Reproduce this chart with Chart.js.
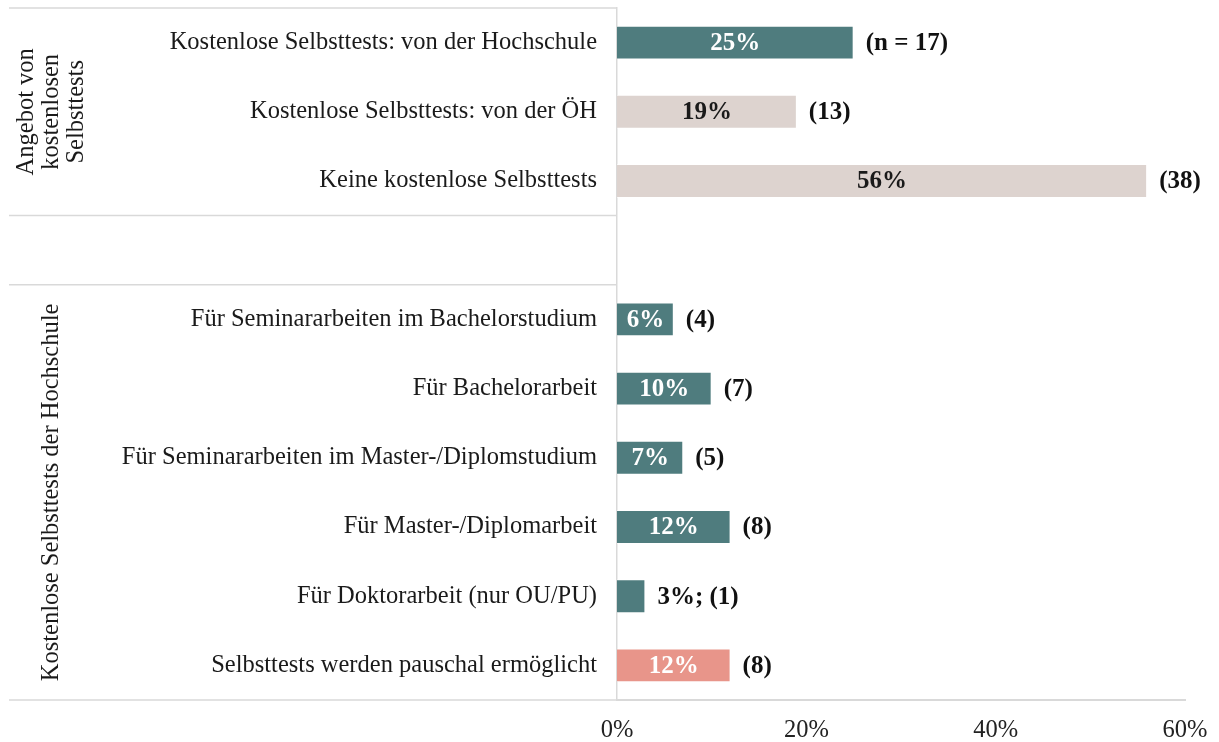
<!DOCTYPE html>
<html lang="de">
<head>
<meta charset="utf-8">
<script src="https://cdn.jsdelivr.net/npm/chart.js@4.4.1/dist/chart.umd.min.js"></script>
<style>
  html, body { margin: 0; padding: 0; background: #fff; }
  #wrap { position: relative; width: 1219px; height: 742px; }
</style>
</head>
<body>
<div id="wrap"><canvas id="myChart"></canvas></div>
<script>
// Kategorien (leerer Eintrag = Abstand zwischen den Gruppen)
const categories = [
  'Kostenlose Selbsttests: von der Hochschule',
  'Kostenlose Selbsttests: von der ÖH',
  'Keine kostenlose Selbsttests',
  '',
  'Für Seminararbeiten im Bachelorstudium',
  'Für Bachelorarbeit',
  'Für Seminararbeiten im Master-/Diplomstudium',
  'Für Master-/Diplomarbeit',
  'Für Doktorarbeit (nur OU/PU)',
  'Selbsttests werden pauschal ermöglicht'
];
const shares = [25, 19, 56, null, 6, 10, 7, 12, 3, 12];
const counts = ['n = 17', '13', '38', null, '4', '7', '5', '8', '1', '8'];
const barKind = ['hs', 'other', 'other', null, 'hs', 'hs', 'hs', 'hs', 'hs', 'flat'];

const groups = [
  { lines: ['Angebot von', 'kostenlosen', 'Selbsttests'], from: 0, to: 2, cx: 52 },
  { lines: ['Kostenlose Selbsttests der Hochschule'], from: 4, to: 9, cx: 52 }
];
const xTicks = [0, 20, 40, 60];

const colors = { hs: '#4f7c7e', other: '#ddd3cf', flat: '#e8958a' };
const labelColors = { hs: '#ffffff', other: '#1a1a1a', flat: '#ffffff' };
const lineColor = '#d9d9d9';
const serif = "'Liberation Serif', 'DejaVu Serif', serif";

const labelPlugin = {
  id: 'barLabels',
  afterDatasetsDraw(chart) {
    const ctx = chart.ctx;
    const meta = chart.getDatasetMeta(0);
    ctx.save();
    ctx.font = `bold 25px ${serif}`;
    ctx.textBaseline = 'middle';
    meta.data.forEach((bar, i) => {
      if (shares[i] == null) return;
      const kind = barKind[i];
      const width = bar.x - bar.base;
      let outside = `(${counts[i]})`;
      if (width < 40) {
        outside = `${shares[i]}%; (${counts[i]})`;
      } else {
        ctx.fillStyle = labelColors[kind];
        ctx.textAlign = 'center';
        ctx.fillText(`${shares[i]}%`, (bar.x + bar.base) / 2, bar.y + 1);
      }
      ctx.fillStyle = '#111';
      ctx.textAlign = 'left';
      ctx.fillText(outside, bar.x + 12, bar.y + 1);
    });
    ctx.restore();
  }
};

const groupPlugin = {
  id: 'groupFrame',
  afterDraw(chart) {
    const ctx = chart.ctx;
    const area = chart.chartArea;
    const y = chart.scales.y;
    const half = (y.getPixelForValue(1) - y.getPixelForValue(0)) / 2;
    const x0 = 9;
    ctx.save();
    ctx.strokeStyle = lineColor;
    ctx.lineWidth = 1.5;
    const edges = [area.top, y.getPixelForValue(2) + half, y.getPixelForValue(4) - half, area.bottom];
    edges.forEach(py => {
      ctx.beginPath();
      ctx.moveTo(x0, py);
      ctx.lineTo(area.left, py);
      ctx.stroke();
    });
    ctx.fillStyle = '#1a1a1a';
    ctx.font = `24.5px ${serif}`;
    ctx.textAlign = 'center';
    ctx.textBaseline = 'middle';
    groups.forEach(g => {
      const cy = (y.getPixelForValue(g.from) + y.getPixelForValue(g.to)) / 2;
      const lh = 25;
      ctx.save();
      ctx.translate(g.cx, cy);
      ctx.rotate(-Math.PI / 2);
      g.lines.forEach((t, k) => {
        ctx.fillText(t, 0, (k - (g.lines.length - 1) / 2) * lh);
      });
      ctx.restore();
    });
    ctx.restore();
  }
};

new Chart(document.getElementById('myChart'), {
  type: 'bar',
  data: {
    labels: categories,
    datasets: [{
      data: shares,
      backgroundColor: barKind.map(k => k ? colors[k] : 'transparent'),
      borderColor: 'rgba(255,255,255,0.6)',
      borderWidth: 1,
      categoryPercentage: 1,
      barPercentage: 0.49
    }]
  },
  options: {
    indexAxis: 'y',
    responsive: true,
    maintainAspectRatio: false,
    animation: false,
    layout: { padding: { top: 8, right: 34, left: 0, bottom: 0 } },
    plugins: {
      legend: { display: false },
      tooltip: { enabled: false }
    },
    scales: {
      x: {
        min: 0,
        max: 60,
        afterBuildTicks: scale => { scale.ticks = xTicks.map(v => ({ value: v })); },
        afterFit: scale => {
          scale.height = 42;
          scale.paddingLeft = 0;
          scale.paddingRight = 0;
        },
        grid: { display: false, drawTicks: false },
        border: { display: true, color: lineColor, width: 2 },
        ticks: {
          padding: 16,
          color: '#222',
          font: { family: serif, size: 24.5 },
          callback: v => v + '%'
        }
      },
      y: {
        afterFit: scale => {
          scale.width = 617;
          scale.paddingTop = 0;
          scale.paddingBottom = 0;
        },
        grid: { display: false, drawTicks: false },
        border: { display: true, color: lineColor, width: 1.5 },
        ticks: {
          padding: 20,
          color: '#1a1a1a',
          font: { family: serif, size: 24.5 }
        }
      }
    }
  },
  plugins: [labelPlugin, groupPlugin]
});
</script>
</body>
</html>
